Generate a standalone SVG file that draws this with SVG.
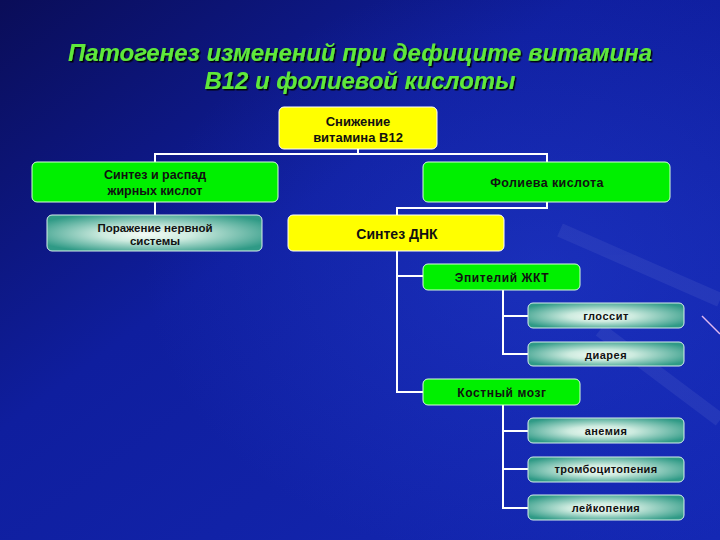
<svg xmlns="http://www.w3.org/2000/svg" width="720" height="540" viewBox="0 0 720 540">
<defs>
<linearGradient id="bg" x1="0" y1="0" x2="1" y2="1">
<stop offset="0" stop-color="#0a0d58"/>
<stop offset="0.4" stop-color="#0f1e9e"/>
<stop offset="1" stop-color="#1428b4"/>
</linearGradient>
<radialGradient id="glow" cx="0.75" cy="0.5" r="0.55">
<stop offset="0" stop-color="#2a48e0" stop-opacity="0.35"/>
<stop offset="1" stop-color="#2a48e0" stop-opacity="0"/>
</radialGradient>
<radialGradient id="teal" cx="0.5" cy="0.5" r="0.6" fx="0.45" fy="0.55">
<stop offset="0" stop-color="#f4fbf6"/>
<stop offset="0.35" stop-color="#cdebdf"/>
<stop offset="1" stop-color="#2f9a86"/>
</radialGradient>
<filter id="sh" x="-5%" y="-20%" width="110%" height="140%">
<feDropShadow dx="1.5" dy="1.5" stdDeviation="0.6" flood-color="#000" flood-opacity="0.9"/>
</filter>
</defs>
<style>
.green{fill:#00f000;stroke:#d8ffd8;stroke-width:1}
.yellow{fill:#ffff00;stroke:#ffffff;stroke-width:1}
.teal{fill:url(#teal);stroke:#d8f0ea;stroke-width:1}
.t{font-family:"Liberation Sans",Arial,sans-serif;font-weight:bold;fill:#111;text-anchor:middle}
.title{font-family:"Liberation Sans",Arial,sans-serif;font-weight:bold;font-style:italic;font-size:23px;fill:#5ee83a;text-anchor:middle}
.conn{fill:none;stroke:#ffffff;stroke-width:2}
</style>
<rect width="720" height="540" fill="url(#bg)"/>
<rect width="720" height="540" fill="url(#glow)"/>
<g opacity="0.06" stroke="#ffffff" stroke-width="14" fill="none">
<line x1="560" y1="230" x2="720" y2="300"/>
<line x1="600" y1="330" x2="720" y2="420"/>
</g>
<line x1="702" y1="316" x2="720" y2="334" stroke="#e0b8f0" stroke-width="1.5"/>
<g id="title" filter="url(#sh)">
<text class="title" x="360" y="61" textLength="584" lengthAdjust="spacingAndGlyphs">Патогенез изменений при дефиците витамина</text>
<text class="title" x="360" y="89" textLength="311" lengthAdjust="spacingAndGlyphs">В12 и фолиевой кислоты</text>
</g>
<g id="connectors" class="conn">
<polyline points="358,149 358,154"/>
<polyline points="155,162 155,154 547,154 547,162"/>
<polyline points="155,202 155,215"/>
<polyline points="547,202 547,208 397,208 397,215"/>
<polyline points="397,251 397,392 423,392"/>
<polyline points="397,276 423,276"/>
<polyline points="503,290 503,354 528,354"/>
<polyline points="503,316 528,316"/>
<polyline points="503,405 503,508 528,508"/>
<polyline points="503,431 528,431"/>
<polyline points="503,469 528,469"/>
</g>
<g id="n-b12">
<rect class="yellow" x="279" y="107" width="158" height="42" rx="5"/>
<text class="t" font-size="13" x="358" y="126">Снижение</text>
<text class="t" font-size="13" x="358" y="142">витамина В12</text>
</g>
<g id="n-fat">
<rect class="green" x="32" y="162" width="246" height="40" rx="5"/>
<text class="t" font-size="12.5" x="155" y="179">Синтез и распад</text>
<text class="t" font-size="12.5" x="155" y="195">жирных кислот</text>
</g>
<g id="n-folic">
<rect class="green" x="423" y="162" width="247" height="40" rx="5"/>
<text class="t" font-size="12.5" x="547" y="187" letter-spacing="0.4">Фолиева кислота</text>
</g>
<g id="n-nerve">
<rect class="teal" x="47" y="215" width="215" height="36" rx="5"/>
<text class="t" font-size="11.5" x="155" y="232">Поражение нервной</text>
<text class="t" font-size="11.5" x="155" y="245">системы</text>
</g>
<g id="n-dna">
<rect class="yellow" x="288" y="215" width="216" height="36" rx="5"/>
<text class="t" font-size="14" x="397" y="239">Синтез ДНК</text>
</g>
<g id="n-epit">
<rect class="green" x="423" y="264" width="157" height="26" rx="5"/>
<text class="t" font-size="12" x="502" y="282" letter-spacing="0.6">Эпителий ЖКТ</text>
</g>
<g id="n-gloss">
<rect class="teal" x="528" y="303" width="156" height="25" rx="5"/>
<text class="t" font-size="11" x="606" y="320" letter-spacing="0.5">глоссит</text>
</g>
<g id="n-diar">
<rect class="teal" x="528" y="342" width="156" height="24" rx="5"/>
<text class="t" font-size="11" x="606" y="359" letter-spacing="0.5">диарея</text>
</g>
<g id="n-bone">
<rect class="green" x="423" y="379" width="157" height="26" rx="5"/>
<text class="t" font-size="12" x="502" y="397" letter-spacing="0.6">Костный мозг</text>
</g>
<g id="n-anem">
<rect class="teal" x="528" y="418" width="156" height="25" rx="5"/>
<text class="t" font-size="11" x="606" y="435" letter-spacing="0.4">анемия</text>
</g>
<g id="n-thromb">
<rect class="teal" x="528" y="457" width="156" height="25" rx="5"/>
<text class="t" font-size="11" x="606" y="473" letter-spacing="0.3">тромбоцитопения</text>
</g>
<g id="n-leuk">
<rect class="teal" x="528" y="495" width="156" height="25" rx="5"/>
<text class="t" font-size="11" x="606" y="512" letter-spacing="0.4">лейкопения</text>
</g>
</svg>
